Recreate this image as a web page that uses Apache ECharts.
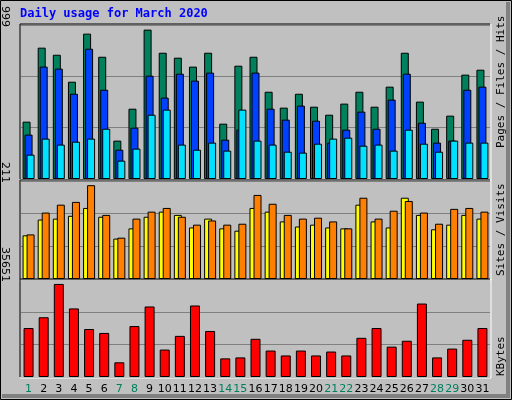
<!DOCTYPE html>
<html><head><meta charset="utf-8">
<script src="https://cdn.jsdelivr.net/npm/echarts@6/dist/echarts.min.js"></script>
<style>html,body{margin:0;padding:0;background:#c0c0c0}#c{width:512px;height:400px}</style>
</head><body><div id="c"></div>
<script>
const days = ['1','2','3','4','5','6','7','8','9','10','11','12','13','14','15','16','17','18','19','20','21','22','23','24','25','26','27','28','29','30','31'];
const weekendDays = ['1','7','8','14','15','21','22','28','29'];
const hits = [372,852,806,631,943,793,249,456,969,819,787,729,819,359,735,793,566,463,553,469,417,489,566,469,599,819,502,326,411,677,709];
const files = [288,729,716,553,845,579,190,333,670,528,683,638,690,255,320,690,456,385,476,378,236,320,437,326,515,683,365,236,249,579,599];
const pages = [158,262,223,242,262,326,119,197,417,450,223,190,236,184,450,249,223,177,171,229,262,268,216,223,184,320,229,177,249,236,236];
const sites = [94,128,130,136,153,134,87,109,134,145,138,111,130,109,104,153,145,124,113,117,111,109,160,124,111,175,138,107,117,138,130];
const visits = [96,143,160,166,202,138,89,130,145,153,134,117,126,117,119,181,162,138,130,132,124,109,175,130,147,168,143,119,151,153,145];
const kbytes = [18000,21960,34200,25200,17640,16200,5400,18720,25920,10080,15120,26280,16920,6840,7200,14040,9720,7920,9720,7920,9360,7920,14400,18000,11160,13320,27000,7200,10440,13680,18000];
const maxLabels = ['999','211','35651'];
const maxVals = [999,211,35651];

const chart = echarts.init(document.getElementById('c'), null, {renderer:'canvas'});
const grids = [{top:25,h:154},{top:181,h:98},{top:280,h:97}];
const L = 21, R = 490;
const bs = {borderColor:'#000',borderWidth:1};
function xa(i){return {type:'category',gridIndex:i,data:days,axisLine:{show:false},axisTick:{show:false},
  axisLabel:{show:i===2,interval:0,margin:7,fontFamily:'DejaVu Sans',fontSize:11,
    color:(v)=>weekendDays.includes(v)?'#00805c':'#000'}};}
function ya(i){return {type:'value',gridIndex:i,min:0,max:maxVals[i],interval:maxVals[i]/3,
  axisLabel:{show:false},axisLine:{show:false},axisTick:{show:false},
  splitLine:{lineStyle:{color:'#808080',width:1}}};}
const graphics = [];
grids.forEach((g,i)=>{
  const b = g.top+g.h;
  graphics.push({type:'polyline',shape:{points:[[L-1,b],[L-1,g.top-1],[R,g.top-1]]},style:{stroke:'#000',lineWidth:1,fill:null},z:10});
  graphics.push({type:'polyline',shape:{points:[[R+1,g.top-1],[R+1,b+1],[L-1,b+1]]},style:{stroke:'#fff',lineWidth:1,fill:null},z:10});
  graphics.push({type:'text',x:10,y:g.top+2,rotation:-Math.PI/2,style:{text:maxLabels[i],font:'11px DejaVu Sans',fill:'#000',align:'right',verticalAlign:'top'},z:10});
});
function vlegend(y,parts){
  graphics.push({type:'text',x:496,y:y,rotation:-Math.PI/2,
    style:{text:parts.map((p,k)=>'{s'+k+'|'+p[0]+'}').join(''),
      rich:Object.fromEntries(parts.map((p,k)=>['s'+k,{fill:p[1],font:'bold 11px DejaVu Sans Mono'}])),
      verticalAlign:'top',align:'left'},z:10});
}
vlegend(25,[]);
graphics.pop();
vlegend(0,[]);graphics.pop();
function rlegend(yBottom,parts){
  graphics.push({type:'text',x:496,y:yBottom,rotation:Math.PI/2,
    style:{text:parts.map((p,k)=>'{s'+k+'|'+p[0]+'}').join(''),
      rich:Object.fromEntries(parts.map((p,k)=>['s'+k,{color:p[1],font:'11px DejaVu Sans Mono'}])),
      align:'left',verticalAlign:'top'},z:10});
}
rlegend(148,[['Pages','#00e0ff'],[' / ','#000'],['Files','#0040ff'],[' / ','#000'],['Hits','#00805c']]);
rlegend(276,[['Sites','#ff8000'],[' / ','#000'],['Visits','#ffff00']]);
rlegend(376,[['KBytes','#ff0000']]);
// outer frame
graphics.push({type:'rect',shape:{x:0.5,y:0.5,width:511,height:399},style:{fill:null,stroke:'#000',lineWidth:1},z:1});
graphics.push({type:'polyline',shape:{points:[[2,396],[508,396],[508,2]]},style:{stroke:'#808080',lineWidth:4,fill:null},z:1});
graphics.push({type:'text',x:20,y:8,style:{text:'Daily usage for March 2020',font:'bold 12px DejaVu Sans Mono',fill:'#0000ff'},z:10});

chart.setOption({
  animation:false,
  backgroundColor:'#c0c0c0',
  grid:grids.map(g=>({left:L,top:g.top,width:R-L,height:g.h})),
  xAxis:[xa(0),xa(1),xa(2)],
  yAxis:[ya(0),ya(1),ya(2)],
  series:[
    {type:'bar',name:'Hits',xAxisIndex:0,yAxisIndex:0,data:hits,barWidth:8,barGap:'-75%',itemStyle:{color:'#00805c',...bs}},
    {type:'bar',name:'Files',xAxisIndex:0,yAxisIndex:0,data:files,barWidth:8,barGap:'-75%',itemStyle:{color:'#0040ff',...bs}},
    {type:'bar',name:'Pages',xAxisIndex:0,yAxisIndex:0,data:pages,barWidth:8,barGap:'-75%',itemStyle:{color:'#00e0ff',...bs}},
    {type:'bar',name:'Visits',xAxisIndex:1,yAxisIndex:1,data:sites,barWidth:8,barGap:'-50%',itemStyle:{color:'#ffff00',...bs}},
    {type:'bar',name:'Sites',xAxisIndex:1,yAxisIndex:1,data:visits,barWidth:8,barGap:'-50%',itemStyle:{color:'#ff8000',...bs}},
    {type:'bar',name:'KBytes',xAxisIndex:2,yAxisIndex:2,data:kbytes,barWidth:10,itemStyle:{color:'#ff0000',...bs}}
  ],
  graphic:graphics
});
</script></body></html>
